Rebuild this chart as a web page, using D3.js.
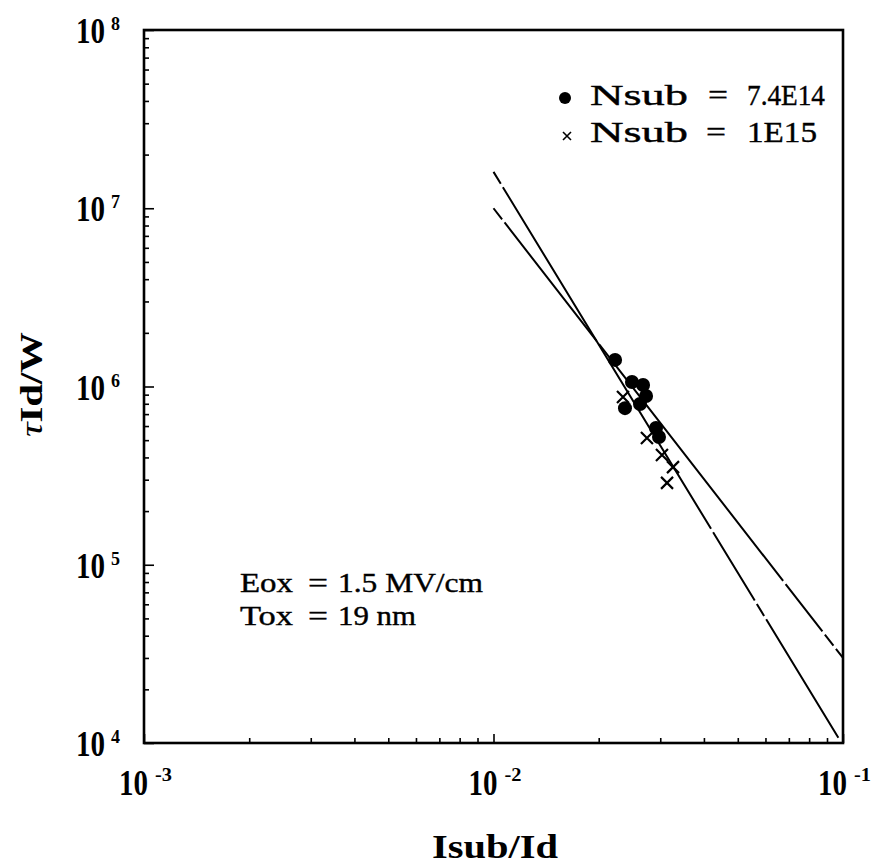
<!DOCTYPE html>
<html><head><meta charset="utf-8">
<script src="https://cdn.jsdelivr.net/npm/d3@7"></script>
<style>body{margin:0;background:#fff}svg{display:block}text{font-family:"Liberation Serif","Times New Roman",serif;fill:#000}</style>
</head><body><svg id="c" width="871" height="865"></svg>
<script>
// ---- data ----
const xTicks = [1e-3, 1e-2, 1e-1];
const xTickExp = ["-3", "-2", "-1"];
const yTicks = [1e4, 1e5, 1e6, 1e7, 1e8];
const yTickExp = ["4", "5", "6", "7", "8"];
const dotX = [0.02228, 0.0249, 0.02679, 0.02732, 0.02625, 0.02378, 0.02917, 0.02975];
const dotY = [1.41e6, 1.06e6, 1.02e6, 8.85e5, 7.98e5, 7.56e5, 5.85e5, 5.21e5];
const crossX = [0.02347, 0.02748, 0.03034, 0.03263, 0.03137];
const crossY = [8.73e5, 5.14e5, 4.13e5, 3.53e5, 2.88e5];
const fitDotX = [0.01, 0.1];
const fitDotY = [1.0e7, 3.0e4];
const fitCrossX = [0.01, 0.097];
const fitCrossY = [1.6e7, 1.07e4];
const legendLabels = ["Nsub", "=", "7.4E14", "Nsub", "=", "1E15"];
const noteLabels = ["Eox", "=", "1.5 MV/cm", "Tox", "=", "19 nm"];

const svg = d3.select("#c");
const L = 144, R = 843, T = 30, B = 743;
const x = d3.scaleLog().domain([1e-3, 1e-1]).range([L, R]);
const y = d3.scaleLog().domain([1e4, 1e8]).range([B, T]);

function minorTicks(lo, hi) {
  const out = [];
  for (let e = lo; e < hi; e++) for (let k = 1; k <= 9; k++) out.push(k * Math.pow(10, e));
  out.push(Math.pow(10, hi));
  return out;
}
const isMajor = v => Math.abs(Math.log10(v) - Math.round(Math.log10(v))) < 1e-9;

// axes (ticks inward)
const gx = svg.append("g").attr("transform", `translate(0,${B})`)
  .call(d3.axisBottom(x).tickValues(minorTicks(-3, -1)).tickSize(-5).tickFormat(""));
const gy = svg.append("g").attr("transform", `translate(${L},0)`)
  .call(d3.axisLeft(y).tickValues(minorTicks(4, 8)).tickSize(-5).tickFormat(""));
[gx, gy].forEach(g => {
  g.select(".domain").remove();
  g.selectAll(".tick line").attr("stroke", "#000").attr("stroke-width", 1.6);
});
gx.selectAll(".tick").filter(d => isMajor(d)).select("line").attr("y2", -9);
gy.selectAll(".tick").filter(d => isMajor(d)).select("line").attr("x2", 10);

// frame
svg.append("rect").attr("x", L).attr("y", T).attr("width", R - L).attr("height", B - T)
  .attr("fill", "none").attr("stroke", "#000").attr("stroke-width", 2.6);

function txt(s, px, py, size, len, weight, anchor) {
  const t = svg.append("text").attr("x", px).attr("y", py).attr("font-size", size)
    .attr("font-weight", weight || "bold").text(s);
  if (len) t.attr("textLength", len).attr("lengthAdjust", "spacingAndGlyphs");
  if (anchor) t.attr("text-anchor", anchor);
  return t;
}

// y tick labels
yTicks.forEach((v, i) => {
  const py = y(v);
  txt("10", 76, py + 13, 36, 29);
  txt(yTickExp[i], 111, py, 19, 9);
});
// x tick labels
xTicks.forEach((v, i) => {
  const px = x(v);
  txt("10", px - 25, 795, 36, 29);
  txt(xTickExp[i], px + 11, 781, 19, 17);
});

// axis titles
txt("Isub/Id", 432, 858, 33, 126);
const yt = svg.append("text").attr("transform", "translate(42,437) rotate(-90)")
  .attr("font-size", 32).attr("font-weight", "bold");
yt.append("tspan").attr("font-style", "italic").attr("font-weight", "normal").text("τ");
yt.append("tspan").text("Id/W");
yt.attr("textLength", 105).attr("lengthAdjust", "spacingAndGlyphs");

// fit lines
const line = d3.line().x(d => x(d[0])).y(d => y(d[1]));
svg.append("path").datum(fitDotX.map((v, i) => [v, fitDotY[i]]))
  .attr("d", line).attr("fill", "none").attr("stroke", "#000").attr("stroke-width", 2)
  .attr("stroke-dasharray", "14,4,150,4,300,4,60,4");
svg.append("path").datum(fitCrossX.map((v, i) => [v, fitCrossY[i]]))
  .attr("d", line).attr("fill", "none").attr("stroke", "#000").attr("stroke-width", 2)
  .attr("stroke-dasharray", "14,4,400,4,80,4");

// points
svg.append("g").selectAll("circle").data(dotX.map((v, i) => [v, dotY[i]])).join("circle")
  .attr("cx", d => x(d[0])).attr("cy", d => y(d[1])).attr("r", 7).attr("fill", "#000");
const cs = 6;
svg.append("g").selectAll("path").data(crossX.map((v, i) => [v, crossY[i]])).join("path")
  .attr("d", d => {
    const cx = x(d[0]), cy = y(d[1]);
    return `M${cx - cs},${cy - cs}L${cx + cs},${cy + cs}M${cx - cs},${cy + cs}L${cx + cs},${cy - cs}`;
  })
  .attr("stroke", "#000").attr("stroke-width", 2.2).attr("fill", "none");

// legend
svg.append("circle").attr("cx", 565).attr("cy", 98).attr("r", 6).attr("fill", "#000");
svg.append("path").attr("d", "M563,132L571,140M563,140L571,132").attr("stroke", "#000").attr("stroke-width", 1.6);
const lw = [98, 20, 78, 98, 20, 70];
const lx = [590, 708, 747, 590, 706, 747];
legendLabels.forEach((s, i) => {
  txt(s, lx[i], i < 3 ? 105 : 142, 30, lw[i], "normal").attr("stroke", "#000").attr("stroke-width", 0.4);
});

// annotation
const nw = [53, 20, 145, 53, 20, 78];
const nx = [240, 308, 338, 240, 308, 338];
noteLabels.forEach((s, i) => {
  txt(s, nx[i], i < 3 ? 592 : 625, 28, nw[i], "normal").attr("stroke", "#000").attr("stroke-width", 0.4);
});
</script></body></html>
